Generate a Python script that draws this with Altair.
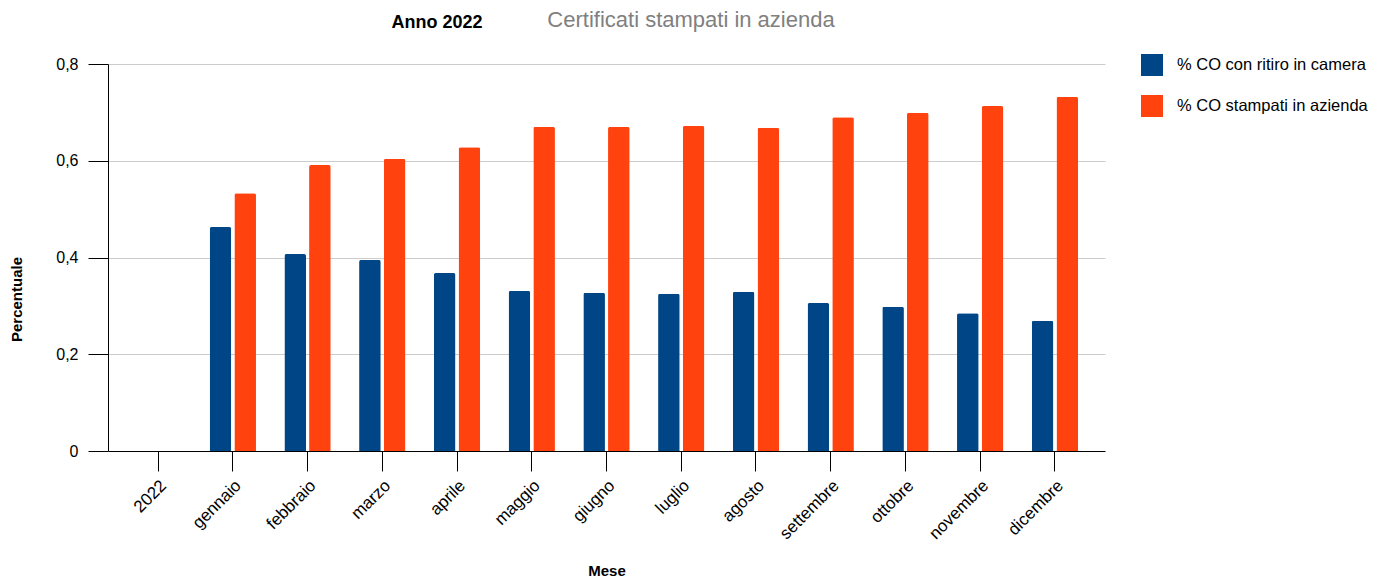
import altair as alt
import pandas as pd

months = ["2022", "gennaio", "febbraio", "marzo", "aprile", "maggio", "giugno",
          "luglio", "agosto", "settembre", "ottobre", "novembre", "dicembre"]
ritiro = [None, 0.463, 0.407, 0.395, 0.368, 0.331, 0.327, 0.325, 0.329, 0.306, 0.298, 0.285, 0.269]
stampati = [None, 0.533, 0.591, 0.604, 0.628, 0.670, 0.670, 0.672, 0.668, 0.690, 0.699, 0.713, 0.732]
series_names = ["% CO con ritiro in camera", "% CO stampati in azienda"]
colors = ["#004586", "#ff420e"]
title_text = ["Certificati stampati in azienda"]
subtitle_text = ["Anno 2022"]

rows = []
for m, a, b in zip(months, ritiro, stampati):
    rows.append({"Mese": m, "serie": series_names[0], "valore": a})
    rows.append({"Mese": m, "serie": series_names[1], "valore": b})
df = pd.DataFrame(rows)

FONT = "Liberation Sans"

bars = alt.Chart(df).mark_bar(cornerRadiusTopLeft=2, cornerRadiusTopRight=2).encode(
    x=alt.X("Mese:N", sort=months,
            scale=alt.Scale(domain=months, paddingInner=0.38, paddingOuter=0.36),
            axis=alt.Axis(title="Mese", labelAngle=-45, labelFontSize=17, labelColor="#000",
                          labelFont=FONT, tickSize=20, tickColor="#000", domainColor="#000",
                          titleFont=FONT, titleFontSize=15, titleFontWeight="bold",
                          titleColor="#000", titleY=124, titleBaseline="alphabetic",
                          labelPadding=6, grid=False)),
    xOffset=alt.XOffset("serie:N", sort=series_names, scale=alt.Scale(paddingInner=0.125)),
    y=alt.Y("valore:Q", scale=alt.Scale(domain=[0, 0.8]),
            axis=alt.Axis(title="Percentuale", values=[0, 0.2, 0.4, 0.6, 0.8],
                          labelExpr="datum.value == 0 ? '0' : replace(format(datum.value, '.1f'), '.', ',')",
                          labelFontSize=16, labelColor="#000", labelFont=FONT, labelPadding=10,
                          tickSize=20, tickColor="#000", domainColor="#000",
                          gridColor="#cccccc", titleFont=FONT, titleFontSize=15,
                          titleFontWeight="bold", titleColor="#000",
                          titleX=-84, titleY=235)),
    color=alt.Color("serie:N", sort=series_names,
                    scale=alt.Scale(domain=series_names, range=colors),
                    legend=alt.Legend(title=None, orient="none", legendX=1033, legendY=-10,
                                      symbolType="square", symbolSize=484, symbolStrokeWidth=0,
                                      labelFontSize=16.5, labelFont=FONT, labelColor="#000",
                                      labelOffset=14, rowPadding=19, labelLimit=400)),
)

title = alt.Chart(pd.DataFrame({"t": title_text})).mark_text(
    font=FONT, fontSize=22, fontWeight="normal", color="#808080", baseline="middle"
).encode(text="t:N", x=alt.value(583), y=alt.value(-44))

sub = alt.Chart(pd.DataFrame({"t": subtitle_text})).mark_text(
    font=FONT, fontSize=18, fontWeight="bold", color="#000", baseline="middle"
).encode(text="t:N", x=alt.value(329), y=alt.value(-41))

chart = alt.layer(bars, title, sub).properties(
    width=997, height=387,
    autosize=alt.AutoSizeParams(type="none"),
    padding={"left": 100, "top": 56, "right": 267, "bottom": 129},
).configure_view(stroke=None)

chart.save("out.html", embed_options={"renderer": "svg", "actions": False})
